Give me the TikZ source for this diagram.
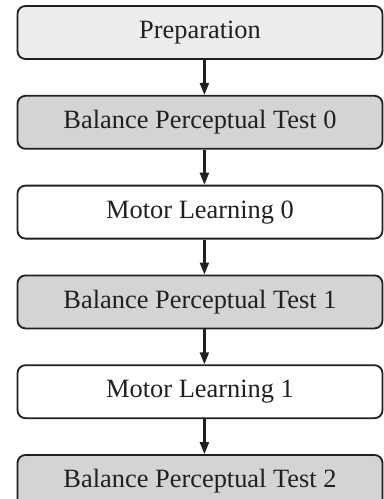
\documentclass[tikz,border=0pt]{standalone}
\usepackage{fontspec}
\setmainfont{Liberation Serif}
\usetikzlibrary{positioning}
\usetikzlibrary{arrows.meta}
\definecolor{prepgray}{RGB}{236,236,236}
\definecolor{testgray}{RGB}{212,212,212}
\definecolor{inkblack}{RGB}{35,31,32}
\tikzset{
	stagebox/.style = {rectangle, rounded corners=4pt, draw=inkblack, line width=0.9pt,
		minimum width=182.5pt, minimum height=26.5pt, inner sep=0pt, text=inkblack,
		font=\fontsize{13.2}{15}\selectfont},% generic stage
	prep_b/.style = {stagebox, fill=prepgray},% preparation
	test_b/.style = {stagebox, fill=testgray},% perceptual test
	learn_b/.style = {stagebox, fill=white},% motor learning
	flow/.style = {-{Triangle[width=4.5pt,length=6pt]}, line width=1.1pt, draw=inkblack}
}
\begin{document}
\begin{tikzpicture}[node distance=17.5pt]
	\useasboundingbox (0,0) rectangle (192pt,-249.5pt);
	\node [prep_b] (prep) at (100pt,-16.25pt) {Preparation};
	\node [test_b, below=of prep] (bpt0) {Balance Perceptual Test 0};
	\node [learn_b, below=of bpt0] (ml0) {Motor Learning 0};
	\node [test_b, below=of ml0] (bpt1) {Balance Perceptual Test 1};
	\node [learn_b, below=of bpt1] (ml1) {Motor Learning 1};
	\node [test_b, below=of ml1] (bpt2) {Balance Perceptual Test 2};
	\foreach \a/\b in {prep/bpt0, bpt0/ml0, ml0/bpt1, bpt1/ml1, ml1/bpt2}
		\draw [flow] ([xshift=2.2pt]\a.south) -- ([xshift=2.2pt]\b.north);
\end{tikzpicture}
\end{document}
